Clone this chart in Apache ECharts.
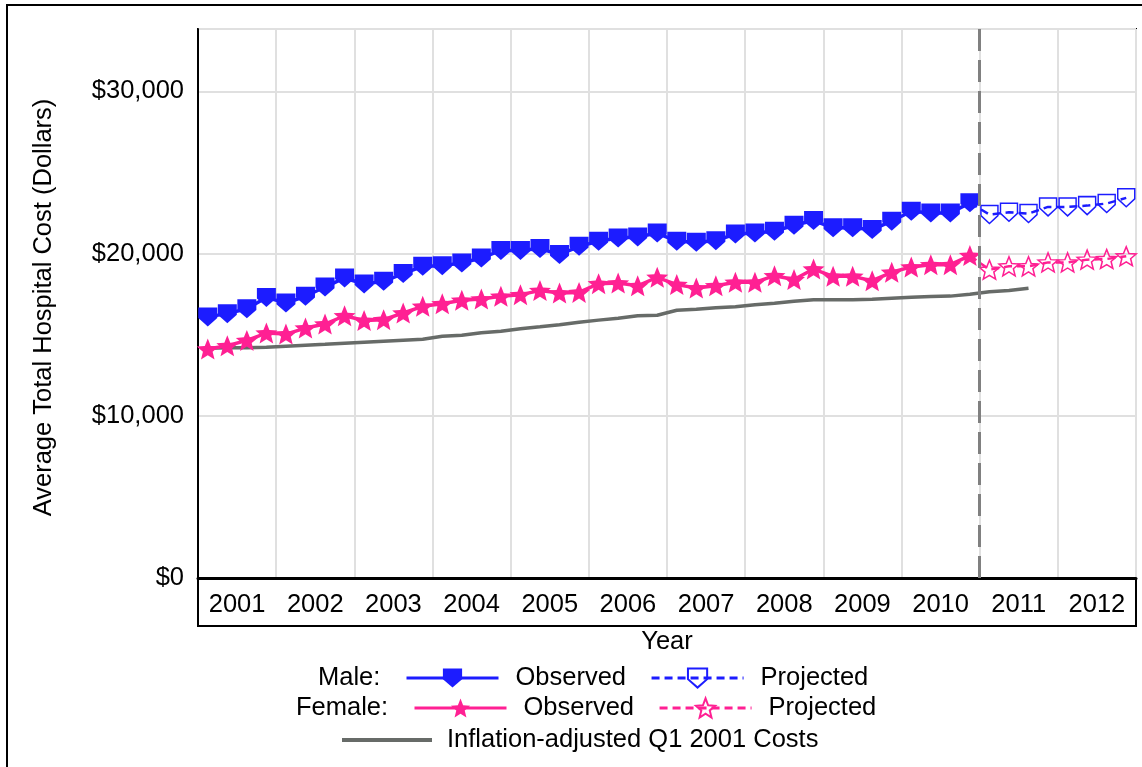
<!DOCTYPE html>
<html>
<head>
<meta charset="utf-8">
<script src="https://cdn.jsdelivr.net/npm/echarts@6/dist/echarts.min.js"></script>
<style>
html,body{margin:0;padding:0;background:#fff;}
#chart{width:1142px;height:767px;}
</style>
</head>
<body>
<div id="chart"></div>
<script>
// ---- Data (quarterly, Q1 2001 .. Q4 2012) ----
const years = ['2001','2002','2003','2004','2005','2006','2007','2008','2009','2010','2011','2012'];
const yTicks = [0, 10000, 20000, 30000];

const maleObserved = [16100,16300,16600,17300,16950,17370,17940,18500,18130,18290,18770,19220,
  19260,19420,19730,20200,20200,20310,19940,20450,20760,20960,21030,21270,
  20760,20700,20800,21210,21270,21380,21750,22040,21590,21590,21480,22000,
  22610,22510,22510,23130];
const maleProjected = [22410,22550,22470,22880,22880,22960,23090,23440];

const femaleObserved = [14120,14320,14650,15100,15040,15410,15660,16170,15880,15930,16340,16750,
  16910,17120,17200,17370,17470,17720,17570,17610,18150,18190,18020,18540,
  18090,17880,18020,18230,18230,18640,18400,19050,18600,18600,18330,18850,
  19180,19320,19320,19880];
const femaleProjected = [19010,19220,19220,19460,19460,19630,19670,19840];

const inflationAdjusted = [14170,14200,14200,14230,14290,14350,14410,14480,14540,14600,14660,14720,
  14900,14970,15120,15220,15370,15490,15620,15770,15900,16020,16170,16200,
  16510,16570,16670,16730,16850,16940,17070,17160,17160,17160,17190,17250,
  17310,17350,17380,17500,17650,17720,17870];

// ---- helpers ----
const FONT = 'Liberation Sans, Arial, sans-serif';
const FS = 25.5;
const BLUE = '#1c1cff';
const PINK = '#ff2093';
const GRAY = '#676b68';
const QPER = 4; // quarters per year
const projStart = maleObserved.length; // first projected quarter index

// quarter index i -> its midpoint on the quarter axis
const pts = (arr, offset) => arr.map((v, i) => [offset + i + 0.5, v]);
const projPts = (obs, proj) => [{value: [obs.length - 0.5, obs[obs.length - 1]], symbol: 'none'}]
  .concat(pts(proj, obs.length));

const HOME = 'path://M0,0L10,0L10,5.6L5,10L0,5.6Z';
const STAR = 'path://M50,0L62.9,32.2L97.6,34.5L70.9,56.8L79.4,90.5L50,72L20.6,90.5L29.1,56.8L2.4,34.5L37.1,32.2Z';

const chart = echarts.init(document.getElementById('chart'), null, {renderer: 'canvas'});

const legendText = {fontSize: FS, fontFamily: FONT, color: '#000', padding: [0, 0, 0, 12]};
const stripPrefix = n => n.replace(/^(Male|Female) /, '');

chart.setOption({
  animation: false,
  backgroundColor: '#fff',
  grid: [
    {left: 198, right: 6, top: 29, bottom: 189, show: true, borderColor: '#000', borderWidth: 2, containLabel: false},
    {left: 198, right: 6, top: 578, height: 48, show: true, borderColor: '#000', borderWidth: 2, containLabel: false}
  ],
  xAxis: [
    {
      type: 'value', gridIndex: 0, min: 0, max: years.length * QPER, interval: QPER,
      axisLine: {show: true, onZero: false, lineStyle: {color: '#000', width: 3}},
      axisTick: {show: false}, axisLabel: {show: false},
      splitLine: {show: true, lineStyle: {color: '#e0e0e0', width: 2}}
    },
    {
      type: 'category', gridIndex: 1, data: years, boundaryGap: true, position: 'bottom',
      axisLine: {show: false}, axisTick: {show: false}, splitLine: {show: false},
      axisLabel: {inside: true, margin: 8, fontSize: FS, fontFamily: FONT, color: '#000', interval: 0},
      name: 'Year', nameLocation: 'middle', nameGap: 3,
      nameTextStyle: {fontSize: FS, fontFamily: FONT, color: '#000'}
    }
  ],
  yAxis: [
    {
      type: 'value', gridIndex: 0, min: yTicks[0], max: 33850, interval: yTicks[1] - yTicks[0],
      axisLine: {show: true, lineStyle: {color: '#000', width: 2}},
      axisTick: {show: false},
      axisLabel: {
        margin: 14, fontSize: FS, fontFamily: FONT, color: '#000',
        formatter: v => yTicks.indexOf(v) >= 0 ? '$' + v.toLocaleString('en-US') : ''
      },
      splitLine: {show: true, lineStyle: {color: '#e0e0e0', width: 2}},
      name: 'Average Total Hospital Cost (Dollars)', nameLocation: 'middle', nameGap: 141, nameRotate: 90,
      nameTextStyle: {fontSize: FS, fontFamily: FONT, color: '#000', padding: [0, 8, 0, 0]}
    },
    {type: 'value', gridIndex: 1, show: false}
  ],
  legend: [
    {data: ['Male Observed', 'Male Projected'], left: 405, top: 665, orient: 'horizontal', padding: 0,
      itemWidth: 92, itemHeight: 24, itemGap: 24, selectedMode: false, formatter: stripPrefix,
      textStyle: legendText, lineStyle: {width: 3}},
    {data: ['Female Observed', 'Female Projected'], left: 413, top: 695, orient: 'horizontal', padding: 0,
      itemWidth: 92, itemHeight: 24, itemGap: 24, selectedMode: false, formatter: stripPrefix,
      textStyle: legendText, lineStyle: {width: 3}},
    {data: [{name: 'Inflation-adjusted Q1 2001 Costs', icon: 'rect'}], left: 342, top: 727, padding: 0,
      itemWidth: 90, itemHeight: 4, selectedMode: false, textStyle: Object.assign({}, legendText, {padding: [0, 0, 0, 10]})}
  ],
  graphic: [
    {type: 'rect', shape: {x: 7, y: 5, width: 1160, height: 800}, style: {fill: 'none', stroke: '#000', lineWidth: 2}, z: -10, silent: true},
    {type: 'text', left: 318, top: 665, style: {text: 'Male:', font: FS + 'px ' + FONT, fill: '#000'}},
    {type: 'text', left: 296, top: 695, style: {text: 'Female:', font: FS + 'px ' + FONT, fill: '#000'}}
  ],
  series: [
    {
      name: 'Inflation-adjusted Q1 2001 Costs', type: 'line', xAxisIndex: 0, yAxisIndex: 0,
      data: pts(inflationAdjusted, 0), symbol: 'none', z: 1,
      lineStyle: {color: GRAY, width: 3.5}, itemStyle: {color: GRAY},
      markLine: {
        silent: true, symbol: 'none', label: {show: false},
        lineStyle: {color: '#808080', width: 3, type: [22, 9]},
        data: [{xAxis: projStart}]
      }
    },
    {
      name: 'Male Observed', type: 'line', data: pts(maleObserved, 0), z: 3,
      symbol: HOME, symbolSize: [19, 19],
      lineStyle: {color: BLUE, width: 3.5}, itemStyle: {color: BLUE}
    },
    {
      name: 'Male Projected', type: 'line', data: projPts(maleObserved, maleProjected), z: 3,
      symbol: HOME, symbolSize: [17, 18],
      lineStyle: {color: BLUE, width: 2.5, type: [8, 5]},
      itemStyle: {color: 'rgba(255,255,255,0)', borderColor: BLUE, borderWidth: 1.5}
    },
    {
      name: 'Female Observed', type: 'line', data: pts(femaleObserved, 0), z: 2,
      symbol: STAR, symbolSize: [22, 21],
      lineStyle: {color: PINK, width: 3.5}, itemStyle: {color: PINK}
    },
    {
      name: 'Female Projected', type: 'line', data: projPts(femaleObserved, femaleProjected), z: 2,
      symbol: STAR, symbolSize: [20, 19],
      lineStyle: {color: PINK, width: 2.5, type: [8, 5]},
      itemStyle: {color: 'rgba(255,255,255,0)', borderColor: PINK, borderWidth: 1.5}
    }
  ]
});
</script>
</body>
</html>
